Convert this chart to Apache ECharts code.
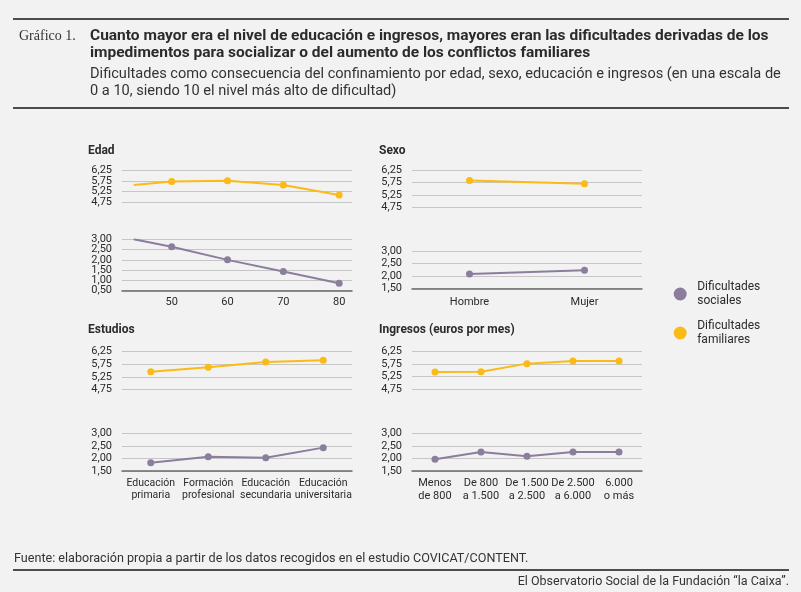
<!DOCTYPE html>
<html><head><meta charset="utf-8">
<script src="https://cdn.jsdelivr.net/npm/echarts@6/dist/echarts.min.js"></script>
<style>html,body{margin:0;padding:0;background:#f2f2f2}#c{width:801px;height:592px}</style>
</head><body><div id="c"></div><script>
// ---- data ----
const edadX = [43.2, 50, 60, 70, 80];
const edadSociales = [3.00, 2.64, 2.00, 1.43, 0.86];
const edadFamiliares = [5.55, 5.72, 5.75, 5.55, 5.09];
const sexoCategorias = ['Hombre', 'Mujer'];
const sexoSociales = [2.08, 2.23];
const sexoFamiliares = [5.83, 5.70];
const estudiosCategorias = ['Educación\nprimaria', 'Formación\nprofesional', 'Educación\nsecundaria', 'Educación\nuniversitaria'];
const estudiosSociales = [1.83, 2.07, 2.03, 2.43];
const estudiosFamiliares = [5.45, 5.63, 5.84, 5.91];
const ingresosCategorias = ['Menos\nde 800', 'De 800\na 1.500', 'De 1.500\na 2.500', 'De 2.500\na 6.000', '6.000\no más'];
const ingresosSociales = [1.97, 2.26, 2.09, 2.26, 2.26];
const ingresosFamiliares = [5.43, 5.44, 5.77, 5.88, 5.88];
const seriesNames = ['Dificultades sociales', 'Dificultades familiares'];

// ---- styles ----
const C_SOC = '#8b7e9c', C_FAM = '#fbba16';
const GRID = '#c6c6c6', AXIS = '#6b6b6b', TXT = '#2b2b2b';
const FONT = 'Roboto';
const fmt = v => v.toFixed(2).replace('.', ',');
const lbl = {color: TXT, fontSize: 11, fontFamily: FONT};

const grids = [
  {left: 122, top: 170, width: 230, height: 32.3},
  {left: 122, top: 239.3, width: 230, height: 51.4},
  {left: 412, top: 170, width: 230, height: 37.3},
  {left: 412, top: 251, width: 230, height: 37.3},
  {left: 122, top: 351.7, width: 230, height: 37.6},
  {left: 122, top: 433.3, width: 230, height: 37.7},
  {left: 412, top: 351.7, width: 230, height: 37.3},
  {left: 412, top: 433.3, width: 230, height: 37.7}
];

// value axis stepping by a quarter; only every other step gets a label and a grid line
function quarterY(gi, min, max, labelRemainder) {
  return {gridIndex: gi, type: 'value', min: min, max: max, interval: 0.25,
    axisLabel: Object.assign({margin: 10, showMinLabel: true, showMaxLabel: true,
      formatter: v => (Math.round(v * 100) % 50 === labelRemainder ? fmt(v) : '')}, lbl),
    splitLine: {lineStyle: {color: [GRID, 'rgba(0,0,0,0)'], width: 1}},
    axisLine: {show: false}, axisTick: {show: false}};
}
function botY(gi, min) {
  return {gridIndex: gi, type: 'value', min: min, max: 3, interval: 0.5,
    axisLabel: Object.assign({margin: 10, showMinLabel: true, showMaxLabel: true, formatter: fmt}, lbl),
    splitLine: {lineStyle: {color: GRID, width: 1}},
    axisLine: {show: false}, axisTick: {show: false}};
}
function catX(gi, cats, show, margin, size) {
  return {gridIndex: gi, type: 'category', data: cats, boundaryGap: true,
    axisLine: {show: show, lineStyle: {color: AXIS, width: 1.5}},
    axisTick: {show: false}, splitLine: {show: false},
    axisLabel: Object.assign({}, lbl, {show: show, margin: margin, lineHeight: 12.5, interval: 0, fontSize: size || 11})};
}
function valX(gi, show) {
  return {gridIndex: gi, type: 'value', min: 41.1, max: 82.3, splitNumber: 4,
    axisLine: {show: show, lineStyle: {color: AXIS, width: 1.5}},
    axisTick: {show: false}, splitLine: {show: false},
    axisLabel: Object.assign({show: show, margin: 6, formatter: v => (v % 10 === 0 ? String(v) : '')}, lbl)};
}
function line(name, color, idx, data) {
  return {type: 'line', name: name, xAxisIndex: idx, yAxisIndex: idx, data: data,
    symbol: 'circle', symbolSize: 7, showSymbol: true,
    lineStyle: {color: color, width: 2}, itemStyle: {color: color}, z: 5};
}
const edadPts = vals => edadX.map((x, i) => i === 0 ? {value: [x, vals[i]], symbol: 'none'} : [x, vals[i]]);

const xAxes = [
  valX(0, false), valX(1, true),
  catX(2, sexoCategorias, false, 8), catX(3, sexoCategorias, true, 8),
  catX(4, estudiosCategorias, false, 6, 10.5), catX(5, estudiosCategorias, true, 6, 10.5),
  catX(6, ingresosCategorias, false, 6), catX(7, ingresosCategorias, true, 6)
];
const yAxes = [
  quarterY(0, 4.75, 6.25, 25), quarterY(1, 0.5, 3, 0),
  quarterY(2, 4.75, 6.25, 25), botY(3, 1.5),
  quarterY(4, 4.75, 6.25, 25), botY(5, 1.5),
  quarterY(6, 4.75, 6.25, 25), botY(7, 1.5)
];

const series = [
  line(seriesNames[1], C_FAM, 0, edadPts(edadFamiliares)),
  line(seriesNames[0], C_SOC, 1, edadPts(edadSociales)),
  line(seriesNames[1], C_FAM, 2, sexoFamiliares),
  line(seriesNames[0], C_SOC, 3, sexoSociales),
  line(seriesNames[1], C_FAM, 4, estudiosFamiliares),
  line(seriesNames[0], C_SOC, 5, estudiosSociales),
  line(seriesNames[1], C_FAM, 6, ingresosFamiliares),
  line(seriesNames[0], C_SOC, 7, ingresosSociales)
];

function legend(name, color, top) {
  return {data: [{name: name, itemStyle: {color: color}}], orient: 'vertical', left: 668.7, top: top,
    icon: 'circle', itemWidth: 24, itemHeight: 13, selectedMode: false,
    formatter: n => n.replace(' ', '\n'),
    textStyle: {color: TXT, fontSize: 12, fontFamily: FONT, lineHeight: 14, padding: [14, 0, 0, 0]}};
}

function txt(x, y, s, size, weight, align, family, color) {
  return {type: 'text', x: x, y: y, silent: true, style: {text: s, fill: color || TXT, font: (weight || 'normal') + ' ' + size + 'px ' + (family || FONT), textAlign: align || 'left', textVerticalAlign: 'middle'}};
}
function rule(y) {
  return {type: 'line', silent: true, shape: {x1: 13, y1: y, x2: 789, y2: y}, style: {stroke: '#4d4d4d', lineWidth: 2}};
}

const graphics = [
  rule(19), rule(108), rule(570),
  txt(19, 36, 'Gráfico 1.', 14, 'normal', 'left', '"Liberation Serif"', '#333'),
  txt(90, 36, 'Cuanto mayor era el nivel de educación e ingresos, mayores eran las dificultades derivadas de los', 15.5, 'bold'),
  txt(90, 53, 'impedimentos para socializar o del aumento de los conflictos familiares', 15.5, 'bold'),
  txt(90, 74, 'Dificultades como consecuencia del confinamiento por edad, sexo, educación e ingresos (en una escala de', 14.6, 'normal', 'left', FONT, '#333'),
  txt(90, 91, '0 a 10, siendo 10 el nivel más alto de dificultad)', 14.6, 'normal', 'left', FONT, '#333'),
  txt(88, 151, 'Edad', 12, 'bold'),
  txt(379, 151, 'Sexo', 12, 'bold'),
  txt(88, 330, 'Estudios', 12, 'bold'),
  txt(379, 330, 'Ingresos (euros por mes)', 12, 'bold'),
  txt(14, 559, 'Fuente: elaboración propia a partir de los datos recogidos en el estudio COVICAT/CONTENT.', 12.6, 'normal', 'left', FONT, '#333'),
  txt(789, 582, 'El Observatorio Social de la Fundación “la Caixa”.', 12.5, 'normal', 'right', FONT, '#333')
];

const chart = echarts.init(document.getElementById('c'), null, {renderer: 'canvas'});
chart.setOption({
  backgroundColor: '#f2f2f2',
  animation: false,
  grid: grids,
  xAxis: xAxes,
  yAxis: yAxes,
  legend: [legend(seriesNames[0], C_SOC, 268), legend(seriesNames[1], C_FAM, 307)],
  series: series,
  graphic: graphics
});
</script></body></html>
